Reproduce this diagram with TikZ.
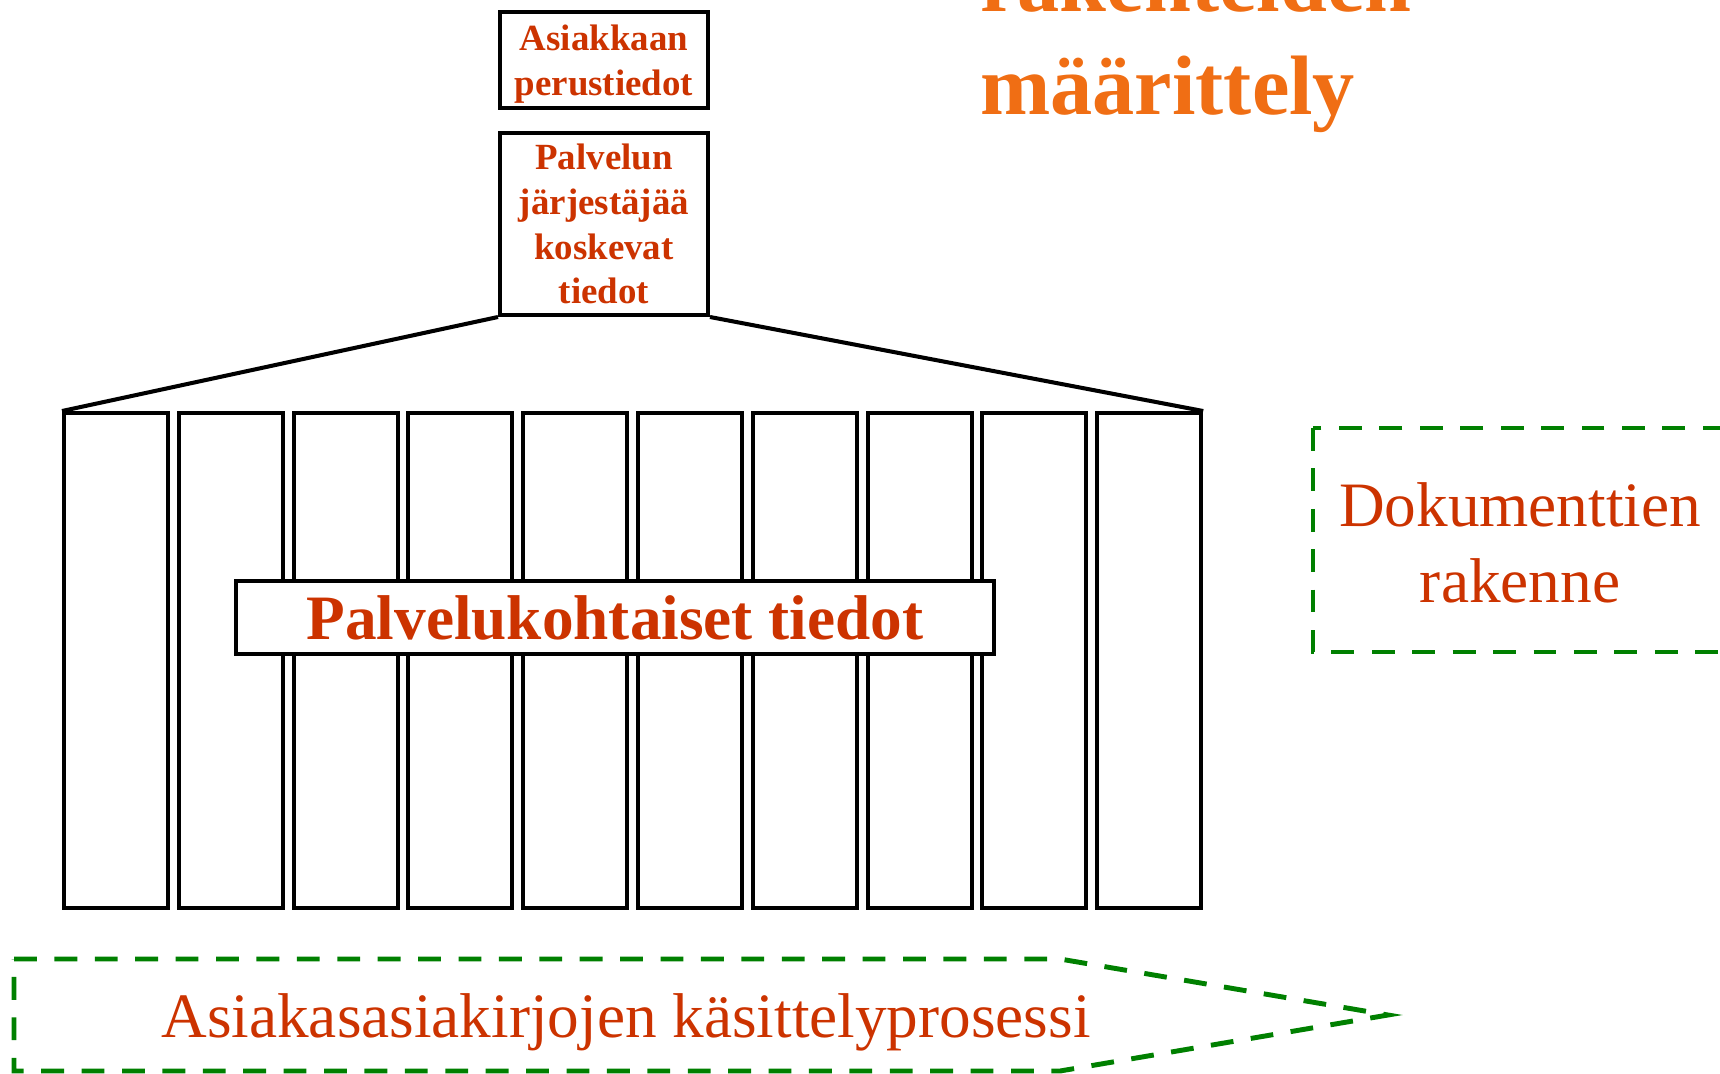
\documentclass[tikz,border=0pt]{standalone}
\usepackage{fontspec}
\setmainfont{Liberation Serif}
\usepackage{xcolor}
\usetikzlibrary{positioning}
\definecolor{textred}{RGB}{204,51,0}
\definecolor{titleorange}{RGB}{240,110,20}
\definecolor{dashgreen}{RGB}{0,128,0}
\tikzset{
    info-box/.style = {draw=black, fill=white, line width=2.3pt, rectangle, inner sep=0pt, align=center, text=textred, font=\fontsize{21}{25.5}\selectfont\bfseries, minimum width=4.16cm},
    col-box/.style = {draw=black, line width=2.3pt, rectangle, inner sep=0pt, minimum width=2.08cm, minimum height=9.9cm},
    wide-box/.style = {draw=black, fill=white, line width=2.3pt, rectangle, inner sep=0pt, text=textred, font=\fontsize{36}{40}\selectfont\bfseries, minimum width=15.16cm, minimum height=1.46cm},
    frame-line/.style = {draw=black, line width=2.3pt},
    title-text/.style = {text=titleorange, font=\fontsize{48}{56}\selectfont\bfseries, inner sep=0pt},
    doc-text/.style = {text=textred, font=\fontsize{36}{43}\selectfont, inner sep=0pt},
    green-dash/.style = {draw=dashgreen, line width=2.8pt, dash pattern=on 13pt off 10pt},
}
\begin{document}
\begin{tikzpicture}[x=0.02cm, y=-0.02cm]
\useasboundingbox (0,0) rectangle (1720,1074);

% title, partly above the page
\node[title-text, anchor=base west] (title2) at (980,115) {määrittely};
\node[title-text, anchor=base west] (title1) at (980,12) {rakenteiden};

% upper boxes
\node[info-box, minimum height=1.92cm, text depth=0pt] (perus) at (604,60) {Asiakkaan\\perustiedot};
\node[info-box, minimum height=3.64cm] (jarj) at (604,224) {Palvelun\\järjestäjää\\koskevat\\tiedot};

% service columns
\foreach \i in {1,...,10}
    \node[col-box] (col\i) at ({116+(\i-1)*114.8},660.5) {};
\node[wide-box] (palv) at (615,617.5) {Palvelukohtaiset tiedot};

\draw[frame-line] (jarj.south west) -- (col1.north west);
\draw[frame-line] (jarj.south east) -- (col10.north east);

% document structure
\draw[green-dash] (1313,428) rectangle (1760,652);
\node[doc-text, align=center] (doc) at (1520,543) {Dokumenttien\\rakenne};

% process arrow
\draw[green-dash] (14,959) -- (1060,959) -- (1388,1015) -- (1060,1071) -- (14,1071) -- cycle;
\node[doc-text, anchor=base] (proc) at (626,1037) {Asiakasasiakirjojen käsittelyprosessi};
\end{tikzpicture}
\end{document}
